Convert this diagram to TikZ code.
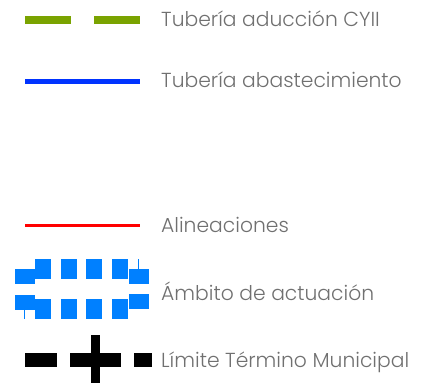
\documentclass[tikz,border=0pt]{standalone}
\usepackage{fontspec}
\setmainfont{Poppins Light}
\usetikzlibrary{positioning}

\definecolor{aduccion}{RGB}{122,163,0}
\definecolor{abastec}{RGB}{0,51,255}
\definecolor{ambito}{RGB}{0,128,255}
\definecolor{legendgray}{RGB}{112,112,112}

\tikzset{
  legend text/.style={anchor=base west, inner sep=0pt, text=legendgray,
    font=\fontsize{20.3}{24}\selectfont},
  ambito box/.style={fill=ambito, draw=none}
}

\begin{document}
\begin{tikzpicture}[x=1pt, y=-1pt]
\useasboundingbox (0,0) rectangle (430,383);

\foreach \t/\y [count=\i] in {Tubería aducción CYII/26,Tubería abastecimiento/87,
    Alineaciones/232,Ámbito de actuación/300,Límite Término Municipal/367}
  \node [legend text] (text-\i) at (161,\y) {\t};

% line ends
\coordinate (green-w) at (25,19.5);
\coordinate (green-e) at (140,19.5);
\coordinate (blue-w) at (25,81.5);
\coordinate (blue-e) at (140,81.5);
\coordinate (red-w) at (25,225.5);
\coordinate (red-e) at (140,225.5);
\coordinate (limit-w) at (25,360);
\coordinate (limit-e) at (152,360);
\coordinate (cross-n) at (95.5,335);
\coordinate (cross-s) at (95.5,383);

\draw [aduccion, line width=8pt, dash pattern=on 46pt off 23pt] (green-w) -- (green-e);
\draw [abastec, line width=5pt] (blue-w) -- (blue-e);
\draw [red, line width=3.5pt] (red-w) -- (red-e);

\foreach \x in {35,61,86,112} {
  \fill [ambito box] (\x,259) rectangle ++(16,20);
  \fill [ambito box] (\x,299) rectangle ++(16,20);
}
\foreach \x/\y in {15/269,15/295,129/269,129/294}
  \fill [ambito box] (\x,\y) rectangle ++(20,15);
\draw [ambito, line width=1pt] (24.5,310) -- (24.5,319);
\draw [ambito, line width=1pt] (138.5,259) -- (138.5,269);

\draw [black, line width=14pt, dash pattern=on 32pt off 13pt on 51pt off 13pt on 18pt]
  (limit-w) -- (limit-e);
\draw [black, line width=9pt] (cross-n) -- (cross-s);

\end{tikzpicture}
\end{document}
